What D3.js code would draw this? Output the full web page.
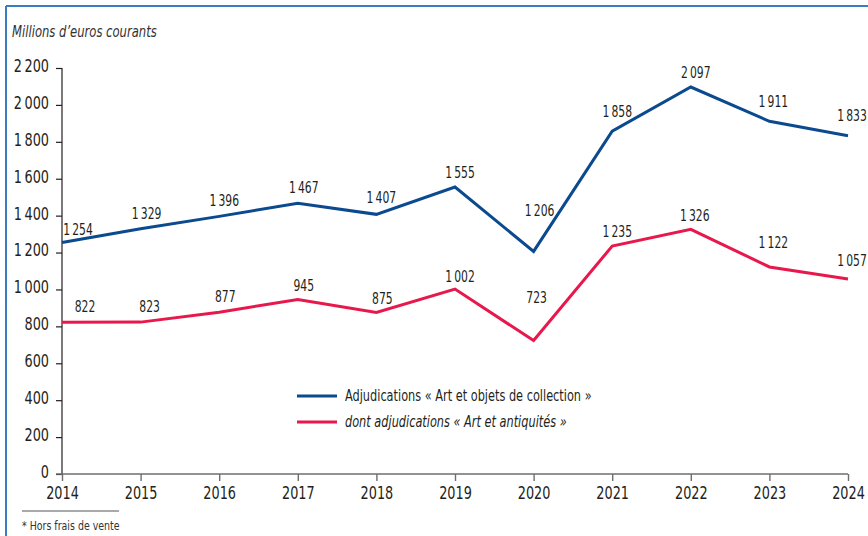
<!DOCTYPE html>
<html lang="fr">
<head>
<meta charset="utf-8">
<script src="https://cdn.jsdelivr.net/npm/d3@7"></script>
<style>
  html, body { margin: 0; padding: 0; background: #fff; }
  svg { display: block; }
  text { font-family: "DejaVu Sans Condensed", "Liberation Sans Narrow", "Noto Sans", sans-serif; fill: #231f20; }
</style>
</head>
<body>
<svg id="chart" width="868" height="536"></svg>
<script>
// Ventes aux enchères, millions d'euros courants (hors frais de vente)
const years = [2014, 2015, 2016, 2017, 2018, 2019, 2020, 2021, 2022, 2023, 2024];
const artCollection = [1254, 1329, 1396, 1467, 1407, 1555, 1206, 1858, 2097, 1911, 1833];
const artAntiquites = [822, 823, 877, 945, 875, 1002, 723, 1235, 1326, 1122, 1057];
const yTicks = [0, 200, 400, 600, 800, 1000, 1200, 1400, 1600, 1800, 2000, 2200];
const seriesNames = [
  "Adjudications « Art et objets de collection »",
  "dont adjudications « Art et antiquités »"
];

const svg = d3.select("#chart");
const W = 868, H = 536;

const x = d3.scaleLinear().domain([2014, 2024]).range([62, 848]);
const y = d3.scaleLinear().domain([0, 2200]).range([474, 68]);

// French thousands separator (thin space)
const fmt = v => {
  const s = String(v);
  return s.length > 3 ? s.slice(0, s.length - 3) + "\u2009" + s.slice(-3) : s;
};

// Narrow the glyphs horizontally to get a condensed face
function condense(sel, s) {
  sel.each(function () {
    const t = d3.select(this);
    const tx = +t.attr("x") || 0, ty = +t.attr("y") || 0;
    t.attr("x", 0).attr("y", 0)
      .attr("transform", `translate(${tx},${ty}) scale(${s},1)`);
  });
}

// Frame (top and left rules)
svg.append("line").attr("x1", 6).attr("x2", W).attr("y1", 6).attr("y2", 6)
  .attr("stroke", "#3b7bbf").attr("stroke-width", 2);
svg.append("line").attr("x1", 6).attr("x2", 6).attr("y1", 6).attr("y2", H)
  .attr("stroke", "#3b7bbf").attr("stroke-width", 2);

// Unit caption
svg.append("text").attr("x", 12).attr("y", 37)
  .attr("font-size", 15).attr("font-style", "italic").style("fill", "#333")
  .text("Millions d\u2019euros courants")
  .call(condense, 0.86);

// Y axis
const yAxis = d3.axisLeft(y).tickValues(yTicks).tickSize(6).tickPadding(7)
  .tickFormat(fmt);
const gy = svg.append("g").attr("transform", "translate(62,0)").call(yAxis);
gy.select(".domain").attr("stroke", "#231f20").attr("stroke-width", 1.2).attr("d", "M0,68V474");
gy.selectAll(".tick line").attr("stroke", "#231f20").attr("stroke-width", 1.2);
gy.selectAll(".tick text").attr("font-size", 17).attr("dy", "0.2em")
  .attr("font-family", null).style("fill", "#231f20")
  .call(condense, 0.84);

// X axis
const xAxis = d3.axisBottom(x).tickValues(years).tickSize(7).tickPadding(6)
  .tickFormat(d3.format("d"));
const gx = svg.append("g").attr("transform", "translate(0,474)").call(xAxis);
gx.select(".domain").attr("stroke", "#6d6e71").attr("stroke-width", 1.4).attr("d", "M56,0H848");
gx.selectAll(".tick line").attr("stroke", "#6d6e71").attr("stroke-width", 1.4);
gx.selectAll(".tick text").attr("font-size", 17).attr("font-family", null)
  .style("fill", "#231f20")
  .call(condense, 0.84);

// Lines
const seriesColors = ["#0b4a8e", "#e8174c"];
const seriesData = [artCollection, artAntiquites];
const line = d3.line().x((d, i) => x(years[i])).y(d => y(d));
seriesData.forEach((vals, k) => {
  svg.append("path").datum(vals).attr("d", line)
    .attr("fill", "none").attr("stroke", seriesColors[k])
    .attr("stroke-width", 3).attr("stroke-linejoin", "miter");
});

// Value labels above each point; extra lift where the line dips
const labelLift = [
  [8, 10, 10, 10, 11, 9, 35, 14, 9, 14, 15],
  [10, 10, 10, 9, 9, 7, 38, 9, 8, 19, 13]
];
const labelShift = [
  [16, 6, 5, 6, 5, 5, 6, 5, 5, 4, 4],
  [23, 9, 6, 6, 6, 5, 3, 5, 4, 4, 4]
];
seriesData.forEach((vals, k) => {
  svg.append("g").selectAll("text").data(vals).join("text")
    .attr("x", (d, i) => x(years[i]) + labelShift[k][i])
    .attr("y", (d, i) => y(d) - labelLift[k][i])
    .attr("text-anchor", "middle").attr("font-size", 15)
    .style("fill", "#231f20")
    .text(d => fmt(d))
    .call(condense, 0.8);
});

// Legend
const legend = svg.append("g");
seriesNames.forEach((name, k) => {
  const ly = 396 + k * 26;
  legend.append("line").attr("x1", 297).attr("x2", 337).attr("y1", ly).attr("y2", ly)
    .attr("stroke", seriesColors[k]).attr("stroke-width", 3);
  legend.append("text").attr("x", 345).attr("y", ly + 5)
    .attr("font-size", 15).attr("font-style", k === 1 ? "italic" : "normal")
    .style("fill", "#231f20").text(name)
    .call(condense, 0.84);
});

// Footnote
svg.append("line").attr("x1", 22).attr("x2", 119).attr("y1", 511).attr("y2", 511)
  .attr("stroke", "#8a8c8e").attr("stroke-width", 1.5);
svg.append("text").attr("x", 22).attr("y", 530).attr("font-size", 12.5)
  .style("fill", "#333").text("* Hors frais de vente")
  .call(condense, 0.84);
</script>
</body>
</html>
